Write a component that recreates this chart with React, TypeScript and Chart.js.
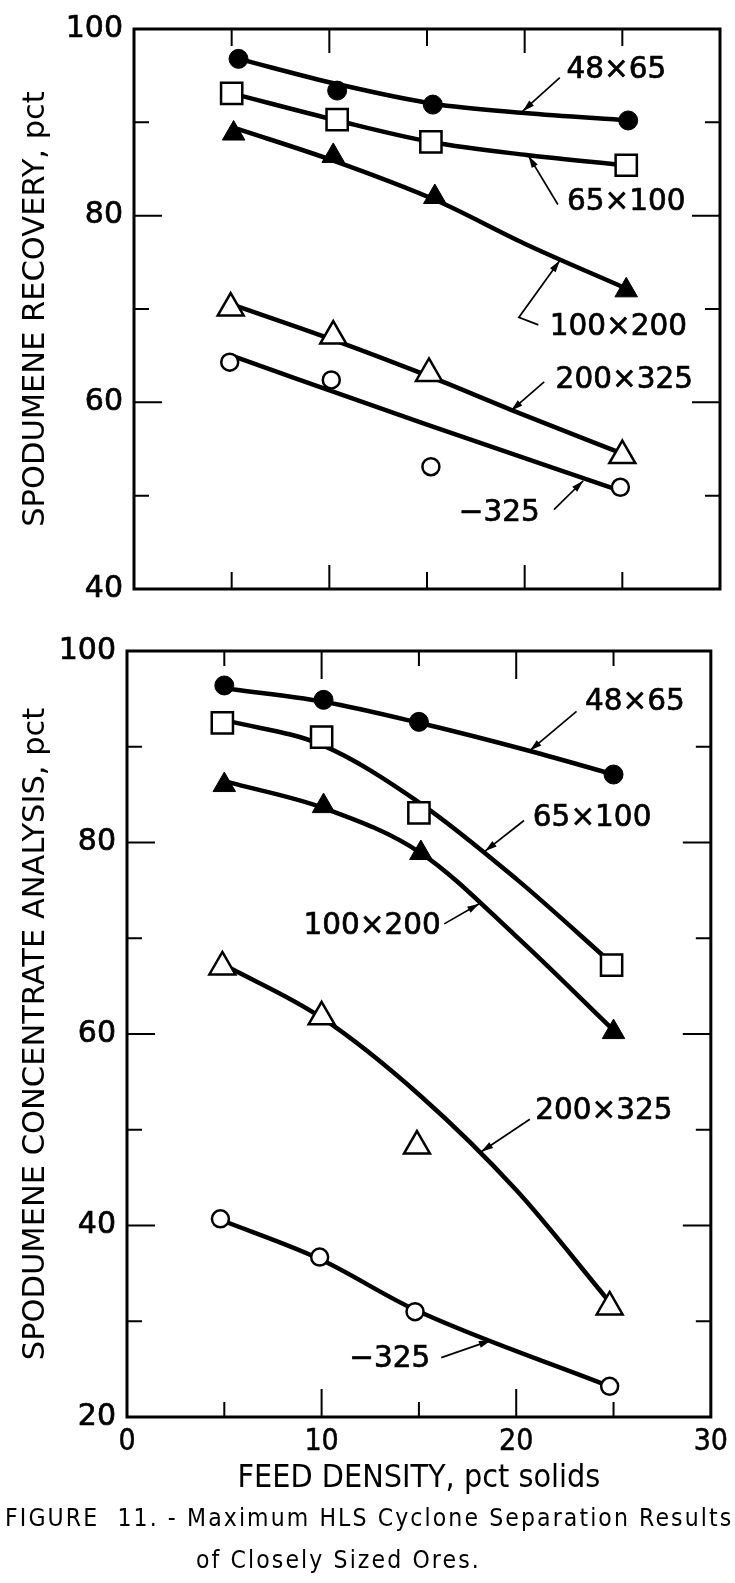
import React, { useEffect, useRef } from 'react';
import { Chart, registerables } from 'chart.js';

Chart.register(...registerables);

type Pt = [number, number];

// ---------------- shared x axis (feed density, pct solids) ----------------
const X_MIN = 0;
const X_MAX = 30;
const X_TICKS = [5, 10, 15, 20, 25];
const X_MAJOR = [10, 20];
const X_LABELS = [0, 10, 20, 30];
const X_TITLE = 'FEED DENSITY, pct solids';

const SERIES_NAMES = ['48×65', '65×100', '100×200', '200×325', '−325'];

// ---------------- top panel: spodumene recovery ----------------
const REC_Y_MIN = 40;
const REC_Y_MAX = 100;
const REC_Y_TICKS = [40, 50, 60, 70, 80, 90, 100];
const REC_Y_LABELS = [40, 60, 80, 100];
const REC_TITLE = 'SPODUMENE RECOVERY, pct';

const REC_48X65: Pt[] = [[5.35, 96.8], [10.4, 93.4], [15.3, 91.9], [25.3, 90.2]];
const REC_65X100: Pt[] = [[5.0, 93.1], [10.4, 90.3], [15.2, 87.9], [25.2, 85.4]];
const REC_100X200: Pt[] = [[5.1, 88.8], [10.2, 86.4], [15.4, 82.0], [25.2, 72.0]];
const REC_200X325: Pt[] = [[4.95, 70.1], [10.2, 67.1], [15.1, 63.1], [25.0, 54.3]];
const REC_MINUS325: Pt[] = [[4.9, 64.3], [10.1, 62.4], [15.2, 53.1], [24.9, 50.9]];

const REC_FIT_48X65: Pt[] = [[5.35, 96.8], [10.4, 94.1], [15.3, 92.0], [20.0, 91.0], [25.3, 90.2]];
const REC_FIT_65X100: Pt[] = [[5.0, 93.1], [10.4, 90.2], [15.2, 87.9], [20.1, 86.5], [25.2, 85.4]];
const REC_FIT_100X200: Pt[] = [[5.3, 89.3], [10.2, 85.9], [15.4, 81.7], [20.0, 77.0], [25.2, 72.2]];
const REC_FIT_200X325: Pt[] = [[5.0, 70.5], [10.2, 66.7], [15.1, 62.8], [19.3, 59.2], [25.0, 54.5]];
const REC_FIT_MINUS325: Pt[] = [[5.0, 65.0], [15.0, 57.6], [24.8, 50.6]];

const REC_LABEL_AT: Pt[] = [[24.7, 95.6], [25.2, 81.4], [24.8, 68.0], [25.1, 62.4], [18.7, 48.1]];
const REC_LEADERS: Pt[][] = [
  [[21.8, 94.8], [19.9, 91.2]],
  [[21.7, 81.2], [20.2, 86.4]],
  [[20.7, 68.3], [19.7, 69.1], [21.8, 75.2]],
  [[21.0, 62.2], [19.3, 59.1]],
  [[21.5, 48.5], [23.0, 51.6]],
];

// ---------------- bottom panel: spodumene concentrate analysis ----------------
const CON_Y_MIN = 20;
const CON_Y_MAX = 100;
const CON_Y_TICKS = [20, 30, 40, 50, 60, 70, 80, 90, 100];
const CON_Y_LABELS = [20, 40, 60, 80, 100];
const CON_TITLE = 'SPODUMENE CONCENTRATE ANALYSIS, pct';

const CON_48X65: Pt[] = [[5.0, 96.4], [10.1, 94.9], [15.0, 92.6], [25.0, 87.1]];
const CON_65X100: Pt[] = [[4.9, 92.5], [10.0, 91.0], [15.0, 83.1], [24.9, 67.2]];
const CON_100X200: Pt[] = [[5.0, 86.0], [10.1, 83.8], [15.1, 78.9], [25.0, 60.2]];
const CON_200X325: Pt[] = [[4.9, 67.0], [10.0, 61.8], [14.9, 48.3], [24.8, 31.5]];
const CON_MINUS325: Pt[] = [[4.8, 40.7], [9.9, 36.7], [14.8, 31.0], [24.8, 23.2]];

const CON_FIT_48X65: Pt[] = [[5.0, 96.1], [10.1, 94.7], [15.0, 92.5], [20.8, 89.5], [25.0, 87.1]];
const CON_FIT_65X100: Pt[] = [[5.2, 92.7], [10.0, 90.2], [15.0, 84.2], [20.0, 76.2], [24.9, 67.4]];
const CON_FIT_100X200: Pt[] = [[5.2, 86.3], [10.1, 83.6], [15.1, 78.9], [20.0, 70.2], [25.0, 60.4]];
const CON_FIT_200X325: Pt[] = [[5.0, 67.2], [10.0, 61.7], [15.1, 53.5], [20.0, 43.7], [24.8, 32.0]];
const CON_FIT_MINUS325: Pt[] = [[4.8, 40.6], [9.9, 36.5], [14.8, 31.2], [24.8, 23.2]];

const CON_LABEL_AT: Pt[] = [[26.1, 94.6], [23.9, 82.5], [12.6, 71.2], [24.5, 51.9], [13.5, 26.0]];
const CON_LEADERS: Pt[][] = [
  [[23.1, 93.7], [20.7, 89.6]],
  [[20.4, 82.3], [18.4, 79.1]],
  [[16.3, 71.5], [18.1, 73.6]],
  [[20.7, 51.1], [18.2, 47.7]],
  [[16.15, 26.2], [18.7, 28.0]],
];

const CAPTION_1 = 'FIGURE  11. - Maximum HLS Cyclone Separation Results';
const CAPTION_2 = 'of Closely Sized Ores.';

// ---------------- helpers ----------------
const W = 735;
const H = 1583;
const SANS = '"DejaVu Sans", "Liberation Sans", sans-serif';
const COND = '"DejaVu Sans Condensed", "DejaVu Sans", sans-serif';

const toXY = (pts: Pt[]) => pts.map(([x, y]) => ({ x, y }));

const MARKERS = [
  { style: 'circle', r: 9.5, fill: '#000', bw: 1 },
  { style: 'rect', r: 15, fill: '#fff', bw: 2.5 },
  { style: 'triangle', r: 13, fill: '#000', bw: 1 },
  { style: 'triangle', r: 15, fill: '#fff', bw: 2.5 },
  { style: 'circle', r: 8.5, fill: '#fff', bw: 2.5 },
];

function buildDatasets(points: Pt[][], fits: Pt[][]) {
  const marks = points.map((p, i) => ({
    label: SERIES_NAMES[i],
    data: toXY(p),
    showLine: false,
    pointStyle: MARKERS[i].style,
    pointRadius: MARKERS[i].r,
    pointHoverRadius: MARKERS[i].r,
    pointBackgroundColor: MARKERS[i].fill,
    pointBorderColor: '#000',
    pointBorderWidth: MARKERS[i].bw,
    order: 0,
  }));
  const lines = fits.map((p, i) => ({
    label: SERIES_NAMES[i] + ' fit',
    data: toXY(p),
    showLine: true,
    borderColor: '#000',
    borderWidth: 4.5,
    pointRadius: 0,
    pointHoverRadius: 0,
    cubicInterpolationMode: 'monotone',
    fill: false,
    order: 1,
  }));
  return [...marks, ...lines];
}

function frameTicksPlugin(yTicks: number[], yMajor: number[], xMajorLen: number, xMinorLen: number) {
  return {
    id: 'frameTicks',
    beforeDatasetsDraw(chart: any) {
      const { ctx, chartArea: a, scales } = chart;
      const xs = scales.x;
      const ys = scales.y;
      ctx.save();
      ctx.strokeStyle = '#000';
      ctx.lineWidth = 3;
      ctx.strokeRect(a.left, a.top, a.right - a.left, a.bottom - a.top);
      ctx.lineWidth = 2;
      ctx.beginPath();
      for (const v of X_TICKS) {
        const px = xs.getPixelForValue(v);
        const len = X_MAJOR.includes(v) ? xMajorLen : xMinorLen;
        ctx.moveTo(px, a.bottom);
        ctx.lineTo(px, a.bottom - len);
        ctx.moveTo(px, a.top);
        ctx.lineTo(px, a.top + len);
      }
      for (const v of yTicks) {
        if (v <= ys.min || v >= ys.max) continue;
        const py = ys.getPixelForValue(v);
        const len = yMajor.includes(v) ? 28 : 15;
        ctx.moveTo(a.left, py);
        ctx.lineTo(a.left + len, py);
        ctx.moveTo(a.right, py);
        ctx.lineTo(a.right - len, py);
      }
      ctx.stroke();
      ctx.restore();
    },
  };
}

function annotationPlugin(labelAt: Pt[], leaders: Pt[][]) {
  return {
    id: 'seriesLabels',
    afterDatasetsDraw(chart: any) {
      const { ctx, scales } = chart;
      const xs = scales.x;
      const ys = scales.y;
      ctx.save();
      ctx.fillStyle = '#000';
      ctx.strokeStyle = '#000';
      ctx.font = `29.5px ${SANS}`;
      ctx.textAlign = 'center';
      ctx.textBaseline = 'middle';
      ctx.lineWidth = 0.7;
      SERIES_NAMES.forEach((t, i) => {
        const px = xs.getPixelForValue(labelAt[i][0]);
        const py = ys.getPixelForValue(labelAt[i][1]);
        ctx.fillText(t, px, py);
        ctx.strokeText(t, px, py);
      });
      ctx.lineWidth = 1.7;
      leaders.forEach((path) => {
        const p = path.map(([x, y]) => [xs.getPixelForValue(x), ys.getPixelForValue(y)]);
        ctx.beginPath();
        ctx.moveTo(p[0][0], p[0][1]);
        for (let k = 1; k < p.length; k++) ctx.lineTo(p[k][0], p[k][1]);
        ctx.stroke();
        const [tx, ty] = p[p.length - 1];
        const [sx, sy] = p[p.length - 2];
        const ang = Math.atan2(ty - sy, tx - sx);
        const L = 12;
        const Wd = 3.5;
        const c = Math.cos(ang);
        const s = Math.sin(ang);
        ctx.beginPath();
        ctx.moveTo(tx, ty);
        ctx.lineTo(tx - L * c + Wd * s, ty - L * s - Wd * c);
        ctx.lineTo(tx - L * c - Wd * s, ty - L * s + Wd * c);
        ctx.closePath();
        ctx.fill();
      });
      ctx.restore();
    },
  };
}

interface PanelProps {
  points: Pt[][];
  fits: Pt[][];
  yMin: number;
  yMax: number;
  yTicks: number[];
  yLabels: number[];
  yTitle: string;
  labelAt: Pt[];
  leaders: Pt[][];
  padding: { top: number; right: number; bottom: number; left: number };
  yAxisWidth: number;
  showX: boolean;
  xMajorLen: number;
  xMinorLen: number;
}

function Panel(props: PanelProps) {
  const ref = useRef<HTMLCanvasElement | null>(null);
  useEffect(() => {
    if (!ref.current) return;
    const chart = new Chart(ref.current, {
      type: 'scatter',
      data: { datasets: buildDatasets(props.points, props.fits) as any },
      options: {
        responsive: false,
        animation: false,
        events: [],
        layout: { padding: props.padding, autoPadding: false } as any,
        plugins: {
          legend: { display: false },
          tooltip: { enabled: false },
          title: { display: false },
        },
        scales: {
          x: {
            type: 'linear',
            min: X_MIN,
            max: X_MAX,
            display: props.showX,
            grid: { display: false, drawTicks: false },
            border: { display: false },
            afterBuildTicks: (s: any) => {
              s.ticks = X_LABELS.map((v) => ({ value: v }));
            },
            afterFit: (s: any) => {
              if (props.showX) s.height = H - 1417;
            },
            ticks: {
              autoSkip: false,
              maxRotation: 0,
              padding: 7,
              color: '#000',
              textStrokeColor: '#000',
              textStrokeWidth: 0.5,
              font: { family: COND, size: 30 },
            },
            title: {
              display: props.showX,
              text: X_TITLE,
              color: '#000',
              font: { family: COND, size: 32 },
              padding: { top: 0, bottom: 85 },
            },
          } as any,
          y: {
            type: 'linear',
            min: props.yMin,
            max: props.yMax,
            grid: { display: false, drawTicks: false },
            border: { display: false },
            afterBuildTicks: (s: any) => {
              s.ticks = props.yTicks.map((v) => ({ value: v }));
            },
            afterFit: (s: any) => {
              s.width = props.yAxisWidth;
            },
            ticks: {
              autoSkip: false,
              padding: 11,
              color: '#000',
              textStrokeColor: '#000',
              textStrokeWidth: 0.7,
              font: { family: SANS, size: 30 },
              callback: (v: any) => (props.yLabels.includes(Number(v)) ? String(v) : ''),
            },
            title: {
              display: true,
              text: props.yTitle,
              color: '#000',
              font: { family: SANS, size: 30.5 },
              padding: { top: 18, bottom: 0 },
            },
          } as any,
        },
      },
      plugins: [
        frameTicksPlugin(props.yTicks, props.yLabels, props.xMajorLen, props.xMinorLen),
        annotationPlugin(props.labelAt, props.leaders),
      ],
    });
    return () => chart.destroy();
  }, []);
  return (
    <canvas
      ref={ref}
      width={W}
      height={H}
      style={{ position: 'absolute', left: 0, top: 0, width: W, height: H }}
    />
  );
}

export default function App() {
  const capStyle: React.CSSProperties = {
    position: 'absolute',
    fontFamily: COND,
    fontSize: 24.5,
    lineHeight: '28px',
    letterSpacing: '2.1px',
    whiteSpace: 'pre',
    color: '#000',
  };
  return (
    <div
      style={{
        position: 'absolute',
        left: 0,
        top: 0,
        width: W,
        height: H,
        overflow: 'hidden',
        background: '#fff',
      }}
    >
      <Panel
        points={[REC_48X65, REC_65X100, REC_100X200, REC_200X325, REC_MINUS325]}
        fits={[REC_FIT_48X65, REC_FIT_65X100, REC_FIT_100X200, REC_FIT_200X325, REC_FIT_MINUS325]}
        yMin={REC_Y_MIN}
        yMax={REC_Y_MAX}
        yTicks={REC_Y_TICKS}
        yLabels={REC_Y_LABELS}
        yTitle={REC_TITLE}
        labelAt={REC_LABEL_AT}
        leaders={REC_LEADERS}
        padding={{ top: 21, right: 15, bottom: H - 589, left: 0 }}
        yAxisWidth={134}
        showX={false}
        xMajorLen={24}
        xMinorLen={17}
      />
      <Panel
        points={[CON_48X65, CON_65X100, CON_100X200, CON_200X325, CON_MINUS325]}
        fits={[CON_FIT_48X65, CON_FIT_65X100, CON_FIT_100X200, CON_FIT_200X325, CON_FIT_MINUS325]}
        yMin={CON_Y_MIN}
        yMax={CON_Y_MAX}
        yTicks={CON_Y_TICKS}
        yLabels={CON_Y_LABELS}
        yTitle={CON_TITLE}
        labelAt={CON_LABEL_AT}
        leaders={CON_LEADERS}
        padding={{ top: 651, right: 17, bottom: 0, left: 0 }}
        yAxisWidth={127}
        showX={true}
        xMajorLen={28}
        xMinorLen={15}
      />
      <div style={{ ...capStyle, left: 5, top: 1504 }}>{CAPTION_1}</div>
      <div style={{ ...capStyle, left: 196, top: 1546 }}>{CAPTION_2}</div>
    </div>
  );
}
